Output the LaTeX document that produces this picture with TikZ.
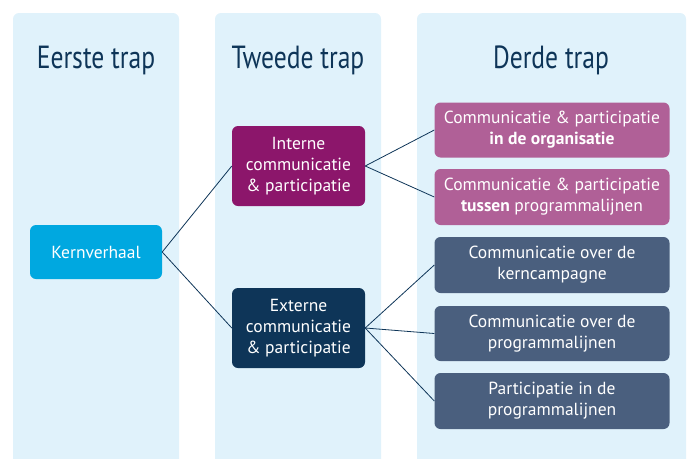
\documentclass[tikz,border=0pt]{standalone}
\usepackage{fontspec}
\setmainfont{PT Sans}
\newfontfamily\titlefont[FakeStretch=0.8]{PT Sans}

\definecolor{kolombg}{HTML}{E0F2FB}
\definecolor{navy}{HTML}{0E3558}
\definecolor{kernblauw}{HTML}{00A8E0}
\definecolor{paars}{HTML}{8C166B}
\definecolor{roze}{HTML}{B06097}
\definecolor{grijsblauw}{HTML}{4A5F7E}

\begin{document}
\begin{tikzpicture}[x=1pt,y=-1pt,
  kolom/.style={fill=kolombg,rounded corners=6pt},
  titel/.style={text=navy,anchor=base,font=\titlefont\fontsize{32}{36}\selectfont},
  blok/.style={rounded corners=6pt,text=white,align=center,inner sep=0pt,
    font=\fontsize{17.5}{21}\selectfont},
  lijn/.style={draw=navy,line width=0.8pt}]

\useasboundingbox (0,0) rectangle (687,458);
\clip (0,0) rectangle (687,458);

%Columns for the three steps
\fill[kolom] (13,13) rectangle (179,470);
\fill[kolom] (215,13) rectangle (381,470);
\fill[kolom] (417,13) rectangle (686,470);

\node[titel] (t1) at (96,68) {Eerste trap};
\node[titel] (t2) at (298,68) {Tweede trap};
\node[titel] (t3) at (551,68) {Derde trap};

% First and second step
\node[blok,fill=kernblauw,minimum width=132pt,minimum height=54pt] (kern) at (96,252) {Kernverhaal};
\node[blok,fill=paars,minimum width=133pt,minimum height=80pt] (intern) at (298.5,166) {Interne\\communicatie\\\& participatie};
\node[blok,fill=navy,minimum width=133pt,minimum height=80pt] (extern) at (298.5,328) {Externe\\communicatie\\\& participatie};

% Third step
\node[blok,fill=roze,minimum width=235pt,minimum height=55pt] (org) at (552,130) {Communicatie \& participatie\\\textbf{in de organisatie}};
\node[blok,fill=roze,minimum width=235pt,minimum height=56pt] (tussen) at (552,197) {Communicatie \& participatie\\\textbf{tussen} programmalijnen};
\node[blok,fill=grijsblauw,minimum width=235pt,minimum height=56pt] (kampagne) at (552,265) {Communicatie over de\\kerncampagne};
\node[blok,fill=grijsblauw,minimum width=235pt,minimum height=55pt] (lijnen) at (552,333.5) {Communicatie over de\\programmalijnen};
\node[blok,fill=grijsblauw,minimum width=235pt,minimum height=56pt] (partic) at (552,401) {Participatie in de\\programmalijnen};

%Connectors
\draw[lijn] (kern.east) -- (intern.west);
\draw[lijn] (kern.east) -- (extern.west);
\draw[lijn] (intern.east) -- (org.west);
\draw[lijn] (intern.east) -- (tussen.west);
\draw[lijn] (extern.east) -- (kampagne.west);
\draw[lijn] (extern.east) -- (lijnen.west);
\draw[lijn] (extern.east) -- (partic.west);

\end{tikzpicture}
\end{document}
